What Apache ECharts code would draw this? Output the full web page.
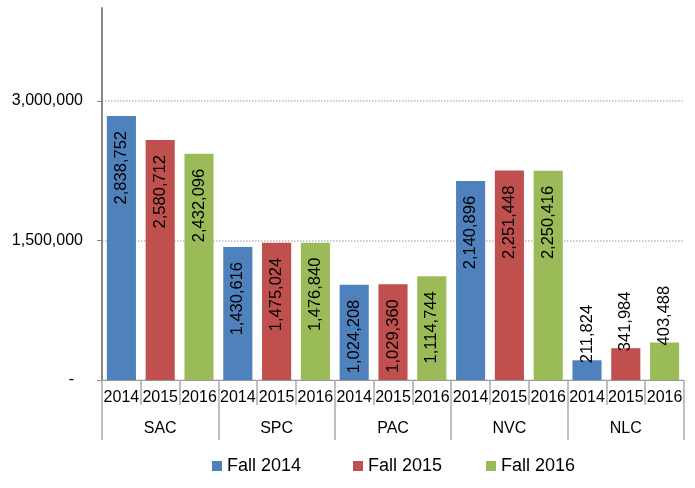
<!DOCTYPE html>
<html>
<head>
<meta charset="utf-8">
<script src="https://cdn.jsdelivr.net/npm/echarts@6/dist/echarts.min.js"></script>
<style>
html,body{margin:0;padding:0;background:#fff;}
#chart{width:695px;height:488px;}
</style>
</head>
<body>
<div id="chart"></div>
<script>
var groups = ['SAC', 'SPC', 'PAC', 'NVC', 'NLC'];
var years = ['2014', '2015', '2016'];
var seriesNames = ['Fall 2014', 'Fall 2015', 'Fall 2016'];
var fall2014 = [2838752, 1430616, 1024208, 2140896, 211824];
var fall2015 = [2580712, 1475024, 1029360, 2251448, 341984];
var fall2016 = [2432096, 1476840, 1114744, 2250416, 403488];
var yTicks = [0, 1500000, 3000000];
var colors = ['#4F81BD', '#C0504D', '#9BBB59'];

var categories = [];
groups.forEach(function (g) { years.forEach(function (y) { categories.push(g + '|' + y); }); });

function fmt(v) { return String(v).replace(/\B(?=(\d{3})+(?!\d))/g, ','); }

function buildSeries(values, k) {
  var data = [];
  for (var i = 0; i < categories.length; i++) data.push(null);
  values.forEach(function (v, gi) {
    var item = { value: v };
    if (v < 600000) {
      item.label = { position: 'top', align: 'left', distance: -3 };
    }
    data[gi * 3 + k] = item;
  });
  return {
    name: seriesNames[k],
    type: 'bar',
    barWidth: '75%',
    barGap: '-100%',
    itemStyle: { color: colors[k] },
    label: {
      show: true,
      position: 'insideTop',
      rotate: 90,
      align: 'right',
      verticalAlign: 'middle',
      distance: 15,
      fontSize: 16.5,
      fontFamily: 'Liberation Sans, Arial, sans-serif',
      color: '#000',
      formatter: function (p) { return fmt(p.value); }
    },
    data: data
  };
}

var legendLefts = [207, 348, 481];
var legends = seriesNames.map(function (n, k) {
  return {
    data: [n],
    left: legendLefts[k],
    top: 452,
    icon: 'rect',
    itemWidth: 10,
    itemHeight: 10,
    itemGap: 5,
    textStyle: { fontSize: 18, color: '#000', fontFamily: 'Liberation Sans, Arial, sans-serif' }
  };
});

var chart = echarts.init(document.getElementById('chart'));
chart.setOption({
  animation: false,
  textStyle: { fontFamily: 'Liberation Sans, Arial, sans-serif' },
  grid: { left: 102, right: 11, top: 8, bottom: 108 },
  legend: legends,
  xAxis: [
    {
      type: 'category',
      data: categories,
      axisLine: { lineStyle: { color: '#999', width: 1 } },
      axisTick: { show: true, length: 25, lineStyle: { color: '#aaa', width: 1.5 } },
      axisLabel: {
        interval: 0, margin: 10, fontSize: 16, color: '#000',
        formatter: function (v) { return v.split('|')[1]; }
      }
    },
    {
      type: 'category',
      data: groups,
      position: 'bottom',
      axisLine: { show: false },
      axisTick: { show: true, length: 60, lineStyle: { color: '#aaa', width: 1.5 } },
      axisLabel: { interval: 0, margin: 41, fontSize: 16, color: '#000' }
    }
  ],
  yAxis: {
    type: 'value',
    min: 0,
    max: 4000000,
    interval: 1500000,
    axisLine: { show: true, lineStyle: { color: '#888', width: 2 } },
    axisTick: { show: true, length: 5, customValues: yTicks, lineStyle: { color: '#888' } },
    axisLabel: {
      margin: 19, fontSize: 16, color: '#000', customValues: yTicks,
      formatter: function (v) { return v === 0 ? '-  ' : fmt(v); }
    },
    splitLine: {
      show: true,
      lineStyle: { type: 'dotted', color: ['#bbb', '#bbb', '#bbb', 'rgba(0,0,0,0)'], width: 1.5 }
    }
  },
  series: [buildSeries(fall2014, 0), buildSeries(fall2015, 1), buildSeries(fall2016, 2)]
});
</script>
</body>
</html>
